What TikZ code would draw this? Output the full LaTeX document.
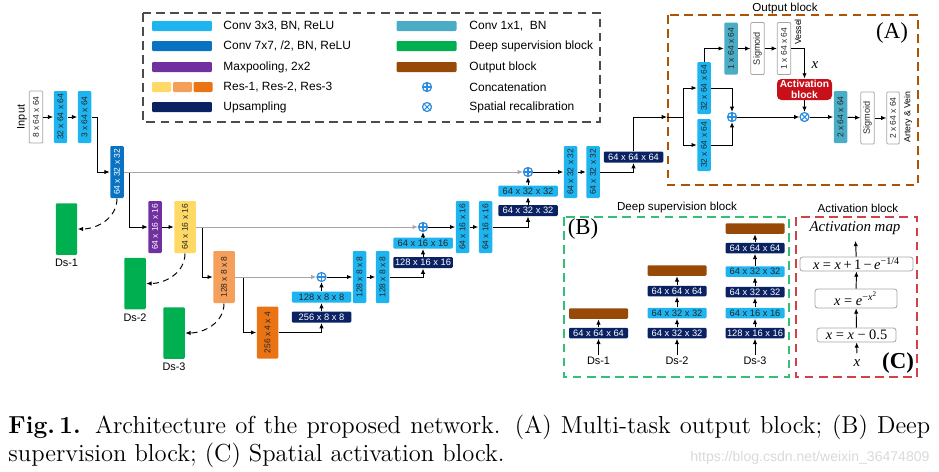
\documentclass[tikz,border=0pt]{standalone}
\usepackage{fontspec}
\usepackage{graphicx}
\usetikzlibrary{arrows.meta,positioning}
\newfontfamily\arial{Liberation Sans}
\newfontfamily\tms{Liberation Serif}
\definecolor{cthree}{HTML}{1EB4F0}
\definecolor{cseven}{HTML}{0A72C2}
\definecolor{cpool}{HTML}{7030A0}
\definecolor{cup}{HTML}{0B2262}
\definecolor{cone}{HTML}{4BACC6}
\definecolor{cds}{HTML}{00B050}
\definecolor{cout}{HTML}{984807}
\definecolor{cact}{HTML}{C8101A}
\definecolor{resa}{HTML}{FFD966}
\definecolor{resb}{HTML}{F5A05A}
\definecolor{resc}{HTML}{EA7314}
\definecolor{cplus}{HTML}{2B8CE0}
\newcommand{\vlab}[1]{\rotatebox{90}{#1}}

\begin{document}
\begin{tikzpicture}[x=0.02cm,y=-0.02cm,line width=0.55pt,>={Latex[length=3pt,width=2.5pt]},
  box/.style={rounded corners=0.6pt,inner sep=0pt,text=black!85,font=\arial\fontsize{5.3}{6}\selectfont},
  vbox/.style={box,minimum width=0.27cm,minimum height=1.04cm,font=\arial\fontsize{4.8}{5.5}\selectfont},
  rbox/.style={vbox,minimum width=0.43cm},
  hbox/.style={box,minimum width=1.19cm,minimum height=0.22cm},
  dbox/.style={box,minimum width=1.18cm,minimum height=0.21cm},
  legbar/.style={box,minimum width=1.2cm,minimum height=0.2cm},
  cbox/.style={fill=cthree},
  sbox/.style={fill=cseven,text=white},
  pbox/.style={fill=cpool,text=white},
  ubox/.style={fill=cup,text=white},
  kbox/.style={fill=cone},
  obox/.style={fill=cout},
  wbox/.style={fill=white,draw=gray!70,line width=0.45pt},
  gbox/.style={box,fill=cds,minimum width=0.43cm,minimum height=1.03cm},
  lab/.style={font=\arial\fontsize{6.2}{7}\selectfont,inner sep=1pt},
  leg/.style={font=\arial\fontsize{6.8}{8}\selectfont,anchor=west,inner sep=0pt},
  skip/.style={->,gray!70},
  dsl/.style={->,dash pattern=on 3.5pt off 2.5pt},
  ring/.style={circle,draw=cplus,fill=white,line width=0.7pt,minimum size=0.18cm,inner sep=0pt},
  cc/.style={ring,path picture={\draw[cplus,line width=0.6pt] (path picture bounding box.north) -- (path picture bounding box.south) (path picture bounding box.west) -- (path picture bounding box.east);}},
  cx/.style={ring,path picture={\draw[cplus,line width=0.6pt] (path picture bounding box.north west) -- (path picture bounding box.south east) (path picture bounding box.south west) -- (path picture bounding box.north east);}},
  fbox/.style={draw=gray!70,fill=white,rounded corners=1.5pt,line width=0.45pt,inner sep=0pt,font=\tms\fontsize{8.2}{9}\selectfont}]

  \useasboundingbox (0,0) rectangle (939,471);

  %legend
  \draw[gray!60!black,line width=0.7pt,dash pattern=on 5pt off 3pt] (143,13) rectangle (600,122);
  \node[legbar,cbox] (lg1) at (182,26) {};
  \node[legbar,sbox] (lg2) at (182,46) {};
  \node[legbar,pbox] (lg3) at (182,67) {};
  \node[box,fill=resa,minimum width=0.38cm,minimum height=0.2cm] (lg4a) at (161.5,87) {};
  \node[box,fill=resb,minimum width=0.38cm,minimum height=0.2cm] (lg4b) at (182.5,87) {};
  \node[box,fill=resc,minimum width=0.38cm,minimum height=0.2cm] (lg4c) at (203,87) {};
  \node[legbar,ubox] (lg5) at (182,107) {};
  \node[leg] at (223,26) {Conv 3x3, BN, ReLU};
  \node[leg] at (223,46) {Conv 7x7, /2, BN, ReLU};
  \node[leg] at (223,67) {Maxpooling, 2x2};
  \node[leg] at (223,87) {Res-1, Res-2, Res-3};
  \node[leg] at (223,107) {Upsampling};
  \node[legbar,kbox] (lg6) at (426.5,26) {};
  \node[legbar,fill=cds] (lg7) at (426.5,46) {};
  \node[legbar,obox] (lg8) at (426.5,67) {};
  \node[cc] (lg9) at (427,87) {};
  \node[cx] (lg10) at (427,107) {};
  \node[leg] at (469,26) {Conv 1x1,\ \ BN};
  \node[leg] at (469,46) {Deep supervision block};
  \node[leg] at (469,67) {Output block};
  \node[leg] at (469,87) {Concatenation};
  \node[leg] at (469,107) {Spatial recalibration};

  %encoder
  \node[lab] at (22,117) {\vlab{Input}};
  \node[vbox,wbox] (in1) at (36,117) {\vlab{8 x 64 x 64}};
  \node[vbox,cbox] (c1) at (60.5,117) {\vlab{32 x 64 x 64}};
  \node[vbox,cbox] (c2) at (84.5,117) {\vlab{3 x 64 x 64}};
  \node[vbox,sbox] (c3) at (117,172) {\vlab{64 x 32 x 32}};
  \node[vbox,pbox] (mp) at (155,227) {\vlab{64 x 16 x 16}};
  \node[rbox,fill=resa] (r1) at (185,227) {\vlab{64 x 16 x 16}};
  \node[rbox,fill=resb] (r2) at (224,277) {\vlab{128 x 8 x 8}};
  \node[rbox,fill=resc] (r3) at (267.5,332.5) {\vlab{256 x 4 x 4}};
  \draw[->] (in1) -- (c1);
  \draw[->] (c1) -- (c2);
  \draw[->] (c2.east) -- ++(6,0) |- (c3.west);
  \draw[->] (c3.east) ++(5,0) |- (mp.west);
  \draw[->] (mp) -- (r1);
  \draw[->] (r1.east) ++(6.5,0) |- (r2.west);
  \draw[->] (r2.east) ++(8,0) |- (r3.west);

  %deep supervision outputs
  \node[gbox] (ds1) at (66.5,229) {};
  \node[gbox] (ds2) at (135,283.5) {};
  \node[gbox] (ds3) at (174,333) {};
  \node[lab,below=1pt of ds1] {Ds-1};
  \node[lab,below=1pt of ds2] {Ds-2};
  \node[lab,below=1pt of ds3] {Ds-3};
  \draw[dsl] (c3.south) to[out=-90,in=0] (ds1.east);
  \draw[dsl] (r1.south) to[out=-90,in=0] (ds2.east);
  \draw[dsl] (r2.south) to[out=-90,in=0] (ds3.east);

  %decoder
  \node[hbox,ubox] (u1) at (321.5,317) {256 x 8 x 8};
  \node[hbox,cbox] (h1) at (321.5,297) {128 x 8 x 8};
  \node[cc] (p1) at (321.5,277) {};
  \node[vbox,cbox] (v1) at (359.5,277) {\vlab{128 x 8 x 8}};
  \node[vbox,cbox] (v2) at (382.5,277) {\vlab{128 x 8 x 8}};
  \node[hbox,ubox] (u2) at (423,262.5) {128 x 16 x 16};
  \node[hbox,cbox] (h2) at (423,243) {64 x 16 x 16};
  \node[cc] (p2) at (423,227) {};
  \node[vbox,cbox] (v3) at (462.5,227) {\vlab{64 x 16 x 16}};
  \node[vbox,cbox] (v4) at (485.5,227) {\vlab{64 x 16 x 16}};
  \node[hbox,ubox] (u3) at (528,210.5) {64 x 32 x 32};
  \node[hbox,cbox] (h3) at (528,191) {64 x 32 x 32};
  \node[cc] (p3) at (528,172) {};
  \node[vbox,cbox] (v5) at (570.5,172) {\vlab{64 x 32 x 32}};
  \node[vbox,cbox] (v6) at (593,172) {\vlab{64 x 32 x 32}};
  \node[hbox,ubox] (u4) at (633.5,157) {64 x 64 x 64};

  \draw[skip] (c3.east) -- (p3.west);
  \draw[skip] (r1.east) -- (p2.west);
  \draw[skip] (r2.east) -- (p1.west);
  \draw[->] (r3.east) -| (u1.south);
  \draw[->] (u1) -- (h1);
  \draw[->] (h1) -- (p1);
  \draw[->] (p1) -- (v1);
  \draw[->] (v1) -- (v2);
  \draw[->] (v2.east) -| (u2.south);
  \draw[->] (u2) -- (h2);
  \draw[->] (h2) -- (p2);
  \draw[->] (p2) -- (v3);
  \draw[->] (v3) -- (v4);
  \draw[->] (v4.east) -| (u3.south);
  \draw[->] (u3) -- (h3);
  \draw[->] (h3) -- (p3);
  \draw[->] (p3) -- (v5);
  \draw[->] (v5) -- (v6);
  \draw[->] (v6.east) -| (u4.south);

  %output block
  \draw[cout!80!orange,line width=0.7pt,dash pattern=on 5pt off 3pt] (668,15) rectangle (918,185);
  \node[lab,font=\arial\fontsize{6.6}{8}\selectfont] at (785,8) {Output block};
  \node[font=\tms\fontsize{13}{14}\selectfont] at (892,33) {(A)};
  \coordinate (obin) at (667,117);
  \coordinate (br) at (683,117);
  \node[vbox,cbox] (o1) at (704,88) {\vlab{32 x 64 x 64}};
  \node[vbox,cbox] (o2) at (704,145) {\vlab{32 x 64 x 64}};
  \node[vbox,kbox] (k1) at (731,48.5) {\vlab{1 x 64 x 64}};
  \node[vbox,wbox,font=\arial\fontsize{5.2}{6}\selectfont] (sg1) at (757.5,48.5) {\vlab{Sigmoid}};
  \node[vbox,wbox] (w1) at (784,48.5) {\vlab{1 x 64 x 64}};
  \node[font=\arial\fontsize{5}{6}\selectfont,inner sep=0pt] at (798,32) {\vlab{Vessel}};
  \node[box,fill=cact,text=white,rounded corners=2.5pt,minimum width=1.1cm,minimum height=0.42cm,align=center,font=\arial\bfseries\fontsize{5.8}{6.6}\selectfont] (act) at (804.5,89.5) {Activation\\block};
  \node[font=\tms\itshape\fontsize{8.5}{9}\selectfont] at (815,65) {x};
  \node[cc] (pl) at (732,117) {};
  \node[cx] (mu) at (804.5,117) {};
  \node[vbox,kbox] (k2) at (840.5,117) {\vlab{2 x 64 x 64}};
  \node[vbox,wbox,font=\arial\fontsize{5.2}{6}\selectfont] (sg2) at (867.5,118) {\vlab{Sigmoid}};
  \node[vbox,wbox,minimum width=0.25cm] (w2) at (893,118) {\vlab{2 x 64 x 64}};
  \node[font=\arial\fontsize{5}{6}\selectfont,inner sep=0pt] at (908,117) {\vlab{Artery \& Vein}};
  \draw[->] (u4.north) |- (obin);
  \draw (obin) -- (br);
  \draw[->] (br) |- (o1.west);
  \draw[->] (br) |- (o2.west);
  \draw[->] (o1.north) |- (k1.west);
  \draw[->] (k1) -- (sg1);
  \draw[->] (sg1) -- (w1);
  \draw[->] (w1.east) -| (act.north);
  \draw[->] (o1.east) -| (pl.north);
  \draw[->] (o2.east) -| (pl.south);
  \draw[->] (pl) -- (mu);
  \draw[->] (act) -- (mu);
  \draw[->] (mu) -- (k2);
  \draw[->] (k2) -- (sg2);
  \draw[->] (sg2) -- (w2);

  %deep supervision block
  \draw[cds!80!white,line width=0.7pt,dash pattern=on 5pt off 3pt] (564,217) rectangle (789,377);
  \node[lab,font=\arial\fontsize{6.6}{8}\selectfont] at (677,207) {Deep supervision block};
  \node[font=\tms\fontsize{13}{14}\selectfont] at (583,229) {(B)};
  \node[lab] (l1) at (598.5,361) {Ds-1};
  \node[dbox,ubox] (b1a) at (598.5,333) {64 x 64 x 64};
  \node[dbox,obox] (b1b) at (598.5,313.5) {};
  \node[lab] (l2) at (677,361) {Ds-2};
  \node[dbox,ubox] (b2a) at (677,333) {64 x 32 x 32};
  \node[dbox,cbox] (b2b) at (677,313) {64 x 32 x 32};
  \node[dbox,ubox] (b2c) at (677,291) {64 x 64 x 64};
  \node[dbox,obox] (b2d) at (677,270.5) {};
  \node[lab] (l3) at (755,361) {Ds-3};
  \node[dbox,ubox] (b3a) at (755,333) {128 x 16 x 16};
  \node[dbox,cbox] (b3b) at (755,313) {64 x 16 x 16};
  \node[dbox,ubox] (b3c) at (755,292) {64 x 32 x 32};
  \node[dbox,cbox] (b3d) at (755,271.5) {64 x 32 x 32};
  \node[dbox,ubox] (b3e) at (755,248) {64 x 64 x 64};
  \node[dbox,obox] (b3f) at (755,228.5) {};
  \draw[->] (l1) -- (b1a);
  \draw[->] (b1a) -- (b1b);
  \draw[->] (l2) -- (b2a);
  \draw[->] (b2a) -- (b2b);
  \draw[->] (b2b) -- (b2c);
  \draw[->] (b2c) -- (b2d);
  \draw[->] (l3) -- (b3a);
  \draw[->] (b3a) -- (b3b);
  \draw[->] (b3b) -- (b3c);
  \draw[->] (b3c) -- (b3d);
  \draw[->] (b3d) -- (b3e);
  \draw[->] (b3e) -- (b3f);

  %activation block
  \draw[cact!80!white,line width=0.7pt,dash pattern=on 5pt off 3pt] (796,217) rectangle (917,377);
  \node[lab,font=\arial\fontsize{6.6}{8}\selectfont] at (858,208) {Activation block};
  \node[font=\tms\itshape\fontsize{8.5}{9}\selectfont] (am) at (855,228) {Activation map};
  \node[fbox,minimum width=2.26cm,minimum height=0.28cm] (f1) at (856.5,264) {\textit{x} = \textit{x}\,+\,1\,−\,\textit{e}\textsuperscript{−1/4}};
  \node[fbox,minimum width=1.64cm,minimum height=0.38cm] (f2) at (856,298.5) {\textit{x} = \textit{e}\textsuperscript{−\textit{x}\textsuperscript{2}}};
  \node[fbox,minimum width=1.58cm,minimum height=0.28cm] (f3) at (856.5,335) {\textit{x} = \textit{x} − 0.5};
  \node[font=\tms\itshape\fontsize{8.5}{9}\selectfont] (xin) at (857,363) {x};
  \node[font=\tms\bfseries\fontsize{13}{14}\selectfont] at (898,363) {(C)};
  \draw[->] (xin) -- (f3);
  \draw[->] (f3) -- (f2);
  \draw[->] (f2) -- (f1);
  \draw[->] (f1) -- (am);

  %caption
  \node[anchor=north west,inner sep=0pt,text width=18.44cm,align=justify,font=\fontsize{14}{15.5}\selectfont] (cap) at (8,415) {\textbf{Fig.\,1.} Architecture of the proposed network. (A) Multi-task output block; (B) Deep\linebreak supervision block; (C) Spatial activation block.};
  \node[anchor=base east,inner sep=0pt,text=gray!30,font=\arial\fontsize{8}{9}\selectfont] (wm) at (930,461) {https://blog.csdn.net/weixin\_36474809};
\end{tikzpicture}
\end{document}
